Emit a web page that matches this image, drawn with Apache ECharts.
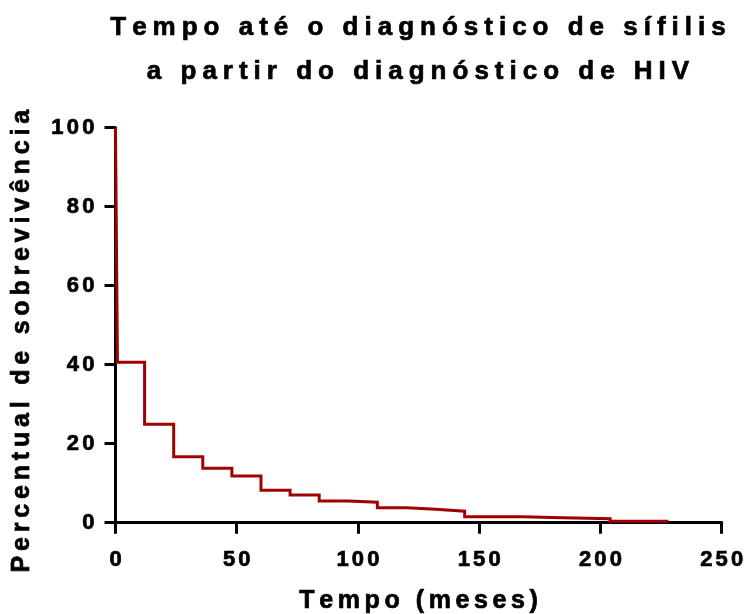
<!DOCTYPE html>
<html>
<head>
<meta charset="utf-8">
<script src="https://cdn.jsdelivr.net/npm/echarts@6/dist/echarts.min.js"></script>
<style>
html,body{margin:0;padding:0;background:#fff;}
#chart{width:744px;height:614px;}
</style>
</head>
<body>
<div id="chart"></div>
<script>
// Data
const titleLines = ['Tempo até o diagnóstico de sífilis', 'a partir do diagnóstico de HIV'];
const xAxisTitle = 'Tempo (meses)';
const yAxisTitle = 'Percentual de sobrevivência';
const timeMonths = [0, 0.8, 12, 24, 36, 48, 60, 72, 84, 96, 108, 120, 132, 144, 168, 180, 204, 228];
const survivalPct = [100, 40.6, 24.9, 16.7, 13.8, 11.8, 8.2, 7.0, 5.5, 5.2, 3.8, 3.4, 2.9, 1.5, 1.3, 1.0, 0.35, 0.35];
const xTicks = [0, 50, 100, 150, 200, 250];
const yTicks = [0, 20, 40, 60, 80, 100];

const FONT = '"Liberation Sans", Arial, sans-serif';
function spaced(str, key) {
  return str.split('').map(function (c) { return '{' + key + '|' + c + '}'; }).join('');
}
function textStyle(size, lh, pad) {
  return {fontFamily: FONT, fontSize: size, fontWeight: 'bold', color: '#000', lineHeight: lh,
          padding: [0, pad, 0, pad], textBorderColor: '#000', textBorderWidth: 0.7};
}

// Kaplan-Meier staircase: each survival value holds until the next event time
const seriesData = [];
timeMonths.forEach(function (t, i) {
  seriesData.push([t, survivalPct[i]]);
  if (i + 1 < timeMonths.length) seriesData.push([timeMonths[i + 1], survivalPct[i]]);
});

const chart = echarts.init(document.getElementById('chart'), null, {renderer: 'canvas'});
chart.setOption({
  animation: false,
  backgroundColor: '#ffffff',
  title: {
    text: titleLines.map(function (l) { return spaced(l, 't'); }).join('\n'),
    left: 418,
    top: 6,
    textAlign: 'center',
    padding: 0,
    textStyle: { rich: { t: textStyle(26, 44, 3.0) } }
  },
  grid: {
    left: 115.5, right: 22.3, top: 127.7, bottom: 91.3,
    outerBoundsMode: 'none'
  },
  xAxis: {
    type: 'value',
    min: xTicks[0], max: xTicks[xTicks.length - 1], interval: xTicks[1] - xTicks[0],
    name: spaced(xAxisTitle, 'n'),
    nameLocation: 'middle',
    nameGap: 66,
    nameTextStyle: { rich: { n: textStyle(25, 25, 2.3) } },
    axisLine: {show: true, onZero: false, lineStyle: {color: '#000', width: 3}},
    axisTick: {show: true, inside: false, length: 11, lineStyle: {color: '#000', width: 3}},
    splitLine: {show: false},
    axisLabel: {
      margin: 26,
      formatter: function (v) { return spaced(String(v), 'd'); },
      rich: { d: textStyle(22, 22, 1.6) }
    }
  },
  yAxis: {
    type: 'value',
    min: yTicks[0], max: yTicks[yTicks.length - 1], interval: yTicks[1] - yTicks[0],
    name: spaced(yAxisTitle, 'n'),
    nameLocation: 'middle',
    nameRotate: 90,
    nameGap: 81,
    nameTextStyle: {
      padding: [0, 32, 0, 0],
      rich: { n: textStyle(25, 25, 2.4) }
    },
    axisLine: {show: true, onZero: false, lineStyle: {color: '#000', width: 3}},
    axisTick: {show: true, inside: false, length: 11, lineStyle: {color: '#000', width: 3}},
    splitLine: {show: false},
    axisLabel: {
      margin: 19.5,
      formatter: function (v) { return spaced(String(v), 'd'); },
      rich: { d: textStyle(22, 22, 1.6) }
    }
  },
  series: [{
    type: 'line',
    data: seriesData,
    symbol: 'none',
    lineStyle: {color: '#a00000', width: 3, join: 'miter', cap: 'butt'},
    z: 3
  }]
});
</script>
</body>
</html>
